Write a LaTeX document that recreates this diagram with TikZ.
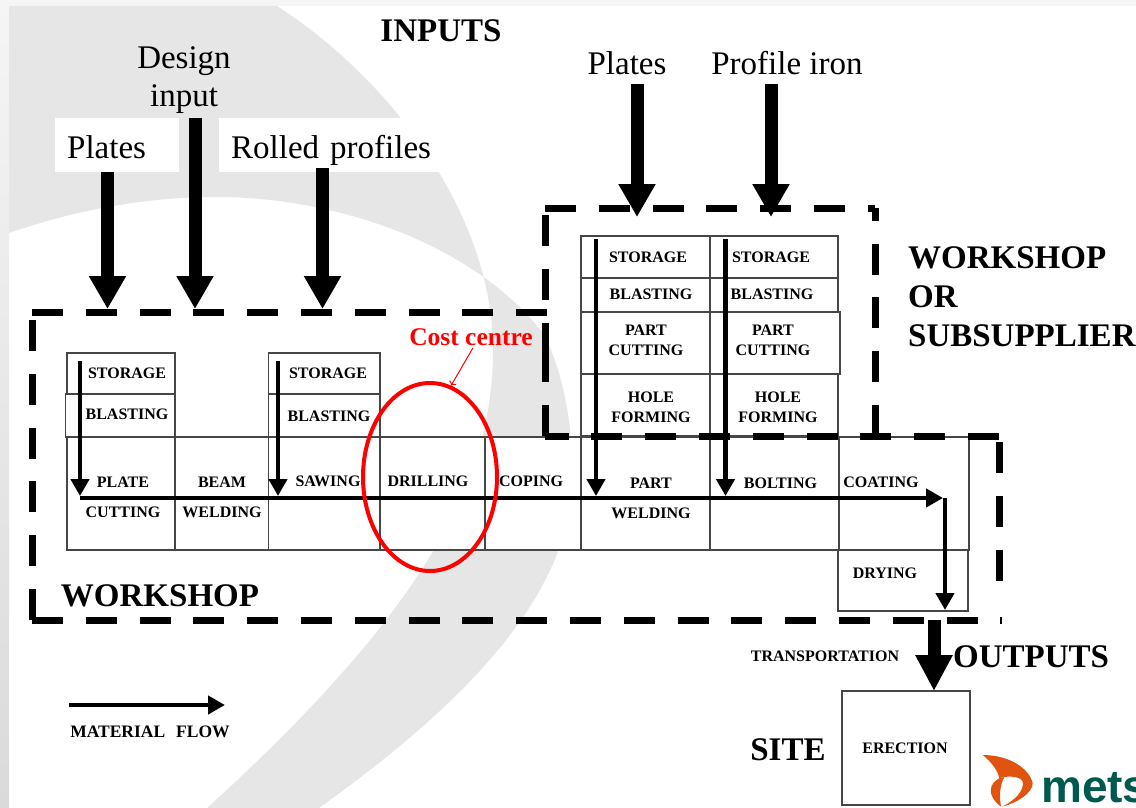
\documentclass[tikz,border=0pt]{standalone}
\usepackage{fontspec}
\setmainfont{Liberation Serif}
\newfontfamily\logofont{Liberation Sans}
\usetikzlibrary{%
	calc,%
	arrows.meta,%
	shapes.geometric,%
}
\definecolor{cgrey}{RGB}{230, 230, 230}
\definecolor{cstripa}{RGB}{245, 245, 245}
\definecolor{cstripb}{RGB}{218, 218, 218}
\definecolor{cborder}{RGB}{70, 70, 70}
\definecolor{corange}{RGB}{224, 84, 15}
\definecolor{cteal}{RGB}{0, 89, 79}
\tikzset{
	nodes={align=center},%
	cellnode/.style={%
			draw=cborder,%
			rectangle,%
			line width=1.3pt,%
			inner sep=0,%
			outer sep=0,%
			fill=white},%
	celltext/.style={%
			inner sep=0,%
			font={\fontsize{16}{20}\selectfont\bfseries}},%
	headtext/.style={%
			inner sep=0,%
			font={\fontsize{33}{39}\selectfont\bfseries}},%
	inputtext/.style={%
			inner sep=0,%
			font={\fontsize{33}{38}\selectfont}},%
	inputbox/.style={%
			fill=white,%
			inputtext,%
			align=left,%
			anchor=north west,%
			inner xsep=12pt,%
			inner ysep=0,%
			text height=40pt,%
			text depth=14pt},%
	bigarrow/.style={%
			line width=13pt,%
			-{Triangle[width=35pt,length=33pt]}},%
	flowarrow/.style={%
			line width=4.5pt,%
			-{Triangle[width=18pt,length=17pt]}},%
	dashline/.style={%
			line width=7pt,%
			dash pattern=on 31pt off 22.8pt},%
}

\begin{document}
\begin{tikzpicture}[x=1pt, y=-1pt]%
	\useasboundingbox (0,0) rectangle (1136,808);

	% background
	\fill[top color=cstripa, bottom color=cstripb] (0,0) rectangle (9,808);
	\fill[cstripa] (0,0) rectangle (1136,6);
	\fill[cgrey] (9,6) -- (277,6) .. controls (385,75) and (493,210) .. (493,350) .. controls (493,480) and (425,610) .. (207,808)
		-- (319,808) .. controls (470,700) and (575,590) .. (573,470) .. controls (571,410) and (560,365) .. (543,333)
		.. controls (470,240) and (330,197) .. (217,197) .. controls (140,197) and (70,212) .. (9,233) -- cycle;

	\node[headtext] (inputs) at (441,31) {INPUTS};
	\node[inputtext] (design) at (184,80) {Design\\input};
	\node[inputbox, text width=100pt] (plates) at (55,118) {Plates};
	\node[inputbox, text width=199pt] (rolled) at (219,118) {\mbox{Rolled profiles}};
	\node[inputtext] (platesb) at (627,63) {Plates};
	\node[inputtext] (iron) at (787,63) {Profile iron};

	% upper table
	\node[cellnode, minimum width=129pt, minimum height=42pt] (storec) at (645.5,257) {};
	\node[cellnode, minimum width=128pt, minimum height=42pt] (stored) at (774,257) {};
	\node[cellnode, minimum width=129pt, minimum height=34pt] (blastc) at (645.5,295) {};
	\node[cellnode, minimum width=128pt, minimum height=34pt] (blastd) at (774,295) {};
	\node[cellnode, minimum width=129pt, minimum height=62pt] (partc) at (645.5,343) {};
	\node[cellnode, minimum width=130pt, minimum height=62pt] (partd) at (775,343) {};
	\node[cellnode, minimum width=129pt, minimum height=62pt] (holec) at (645.5,405) {};
	\node[cellnode, minimum width=128pt, minimum height=62pt] (holed) at (774,405) {};
	\node[celltext] (storectxt) at (648,257) {STORAGE};
	\node[celltext] (storedtxt) at (771,257) {STORAGE};
	\node[celltext] (blastctxt) at (651,294) {BLASTING};
	\node[celltext] (blastdtxt) at (772,294) {BLASTING};
	\node[celltext] (partctxt) at (646,340) {PART\\CUTTING};
	\node[celltext] (partdtxt) at (773,340) {PART\\CUTTING};
	\node[celltext] (holectxt) at (651,407) {HOLE\\FORMING};
	\node[celltext] (holedtxt) at (778,407) {HOLE\\FORMING};

	% left storage
	\node[cellnode, minimum width=108pt, minimum height=41pt] (storea) at (121,373.5) {};
	\node[cellnode, minimum width=109.5pt, minimum height=43pt] (blasta) at (120.25,415.5) {};
	\node[cellnode, minimum width=111.5pt, minimum height=41pt] (storeb) at (324.25,373.5) {};
	\node[cellnode, minimum width=111.5pt, minimum height=43pt] (blastb) at (324.25,415.5) {};
	\node[celltext] (storeatxt) at (127,373) {STORAGE};
	\node[celltext] (blastatxt) at (127,414) {BLASTING};
	\node[celltext] (storebtxt) at (328,373) {STORAGE};
	\node[celltext] (blastbtxt) at (329,416) {BLASTING};

	% main row
	\node[cellnode, minimum width=108pt, minimum height=113pt] (plate) at (121,493.5) {};
	\node[cellnode, minimum width=93.5pt, minimum height=113pt] (beam) at (221.75,493.5) {};
	\node[cellnode, minimum width=111.5pt, minimum height=113pt] (sawing) at (324.25,493.5) {};
	\node[cellnode, minimum width=105pt, minimum height=113pt] (drilling) at (432.5,493.5) {};
	\node[cellnode, minimum width=96pt, minimum height=113pt] (coping) at (533,493.5) {};
	\node[cellnode, minimum width=129pt, minimum height=113pt] (welding) at (645.5,493.5) {};
	\node[cellnode, minimum width=129pt, minimum height=113pt] (bolting) at (774.5,493.5) {};
	\node[cellnode, minimum width=130pt, minimum height=113pt] (coating) at (904,493.5) {};
	\node[cellnode, minimum width=130pt, minimum height=61pt] (drying) at (903,580.5) {};
	\node[cellnode, minimum width=128pt, minimum height=114pt] (erection) at (906,748) {};
	\node[celltext] (platetxt) at (123,497) {PLATE\\[10pt]CUTTING};
	\node[celltext] (beamtxt) at (222,497) {BEAM\\[10pt]WELDING};
	\node[celltext] (sawingtxt) at (328,481) {SAWING};
	\node[celltext] (drillingtxt) at (428,481) {DRILLING};
	\node[celltext] (copingtxt) at (531,481) {COPING};
	\node[celltext] (weldingtxt) at (651,498) {PART\\[10pt]WELDING};
	\node[celltext] (boltingtxt) at (780.5,483) {BOLTING};
	\node[celltext] (coatingtxt) at (881,482) {COATING};
	\node[celltext] (dryingtxt) at (885,573) {DRYING};
	\node[celltext] (erectiontxt) at (905,748) {ERECTION};
	\node[celltext] (transport) at (825,656) {TRANSPORTATION};
	\node[celltext, font={\fontsize{17.5}{20}\selectfont\bfseries}] (legendtxt) at (150,732) {MATERIAL\hspace{11pt}FLOW};

	\node[headtext, align=left, anchor=west] (subsup) at (908,297) {WORKSHOP\\OR\\SUBSUPPLIER};
	\node[headtext] (workshop) at (160,596) {WORKSHOP};
	\node[headtext] (outputs) at (1031,657) {OUTPUTS};
	\node[headtext] (site) at (788,750) {SITE};

	% dashed frames
	\coordinate (frameatl) at (32,312);
	\coordinate (frameatr) at (547,312);
	\coordinate (frameabl) at (32,620);
	\coordinate (frameabr) at (1002,620);
	\coordinate (framertl) at (999,442);
	\coordinate (framerbl) at (999,582);
	\coordinate (framemr) at (999,436);
	\coordinate (framebl) at (545,436);
	\coordinate (framebm) at (545,352);
	\coordinate (framebt) at (545,215);
	\coordinate (framebu) at (545,354);
	\coordinate (framebtl) at (545,208);
	\coordinate (framebtr) at (875,208);
	\coordinate (framebbr) at (875,436);
	\draw[dashline] (frameatl) -- (frameatr);
	\draw[dashline] (frameabl) -- (frameatl);
	\draw[dashline] (frameabl) -- (frameabr);
	\draw[dashline] (framertl) -- (framerbl);
	\draw[dashline] (framemr) -- (framebl);
	\draw[dashline] (framebl) -- (framebm);
	\draw[dashline] (framebt) -- (framebu);
	\draw[dashline] (framebtl) -- (framebtr);
	\draw[dashline] (framebbr) -- (framebtr);

	% input and output arrows
	\coordinate (platesend) at (107.5,309);
	\coordinate (designtop) at (195,118);
	\coordinate (designend) at (195,309);
	\coordinate (rolledtop) at (322.5,168);
	\coordinate (rolledend) at (322.5,309);
	\coordinate (platesbtop) at (637,84);
	\coordinate (platesbend) at (637,217);
	\coordinate (irontop) at (771,84);
	\coordinate (ironend) at (771,217);
	\coordinate (outtop) at (934,620);
	\draw[bigarrow] (plates.south -| platesend) -- (platesend);
	\draw[bigarrow] (designtop) -- (designend);
	\draw[bigarrow] (rolledtop) -- (rolledend);
	\draw[bigarrow] (platesbtop) -- (platesbend);
	\draw[bigarrow] (irontop) -- (ironend);
	\draw[bigarrow, -{Triangle[width=35pt,length=36pt]}] (outtop) -- (erection.north -| outtop);

	% material flow
	\coordinate (flowstart) at (80,498);
	\coordinate (flowend) at (943,498);
	\coordinate (flowbend) at (945,498);
	\coordinate (legendleft) at (69,705);
	\coordinate (legendright) at (225,705);
	\draw[flowarrow] ($(storea.north west)+(13,8)$) -- ($(plate.north west)+(13,59)$);
	\draw[flowarrow] ($(storeb.north west)+(9.5,8)$) -- ($(sawing.north west)+(9.5,59)$);
	\draw[flowarrow] ($(storec.north west)+(15,3)$) -- ($(welding.north west)+(15,59)$);
	\draw[flowarrow] ($(stored.north west)+(15.5,3)$) -- ($(bolting.north west)+(15.5,59)$);
	\draw[flowarrow] (flowstart) -- (flowend);
	\draw[flowarrow] (flowbend) -- ($(drying.south west)+(107,-1)$);
	\draw[flowarrow] (legendleft) -- (legendright);

	% cost centre
	\node[draw=red, ellipse, line width=4pt, inner sep=0, minimum width=134pt, minimum height=188pt] (costring) at (430,477) {};
	\node[inner sep=0, text=red, font={\fontsize{25.5}{30}\selectfont\bfseries}] (costlabel) at (471,337) {Cost centre};
	\draw[->, red, line width=1pt] (costlabel.south) ++(2,2) -- (costring.77);

	% logo
	\fill[corange] (982.7,755) .. controls (1009.3,755) and (1029.3,768.3) .. (1032.7,783.3) .. controls (1032.7,793.3) and (1016,803.3) .. (1002,806.7) .. controls (1016,800) and (1024.3,790) .. (1022.7,781.7) .. controls (1021,776.7) and (1009.3,775) .. (999.3,778.3) .. controls (997.7,770) and (991,761.7) .. (982.7,755) -- cycle;
	\fill[corange] (999.3,778.3) .. controls (989.3,783.3) and (986,795) .. (1001,806.7) .. controls (999.3,796.7) and (999.3,786.7) .. (1004.3,777) -- cycle;
	\node[anchor=base west, inner sep=0, text=cteal, font={\logofont\fontsize{46}{46}\selectfont\bfseries}] (logo) at (1041,802) {mets};
\end{tikzpicture}
\end{document}
